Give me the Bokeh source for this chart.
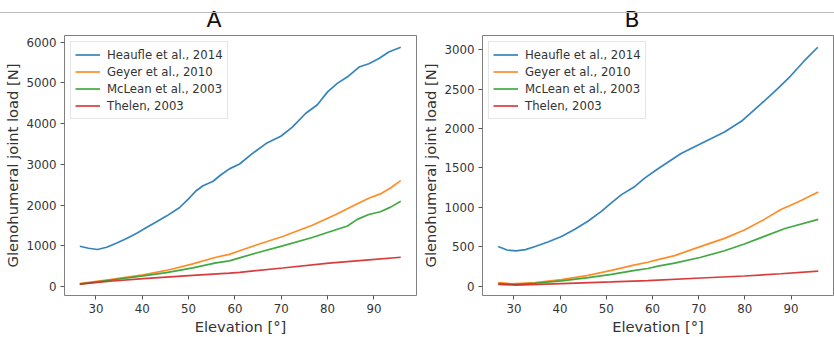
from bokeh.plotting import figure
from bokeh.layouts import row
from bokeh.models import (Range1d, FixedTicker, Legend, LegendItem, Title, InlineStyleSheet)
from bokeh.embed import file_html
from bokeh.resources import INLINE

# ---------------- data ----------------
series_names = ["Heaufle et al., 2014", "Geyer et al., 2010", "McLean et al., 2003", "Thelen, 2003"]
series_colors = ["#1f77b4", "#ff7f0e", "#2ca02c", "#d62728"]

# Panel A
a_heaufle_x = [26.5, 28.4, 30.3, 32.3, 34.5, 36.6, 38.8, 40.9, 43.0, 45.2, 48.0, 50.2, 51.7, 53.1, 55.2, 57.0,
               58.8, 61.0, 63.8, 66.7, 69.9, 72.4, 75.3, 77.8, 80.0, 82.1, 84.3, 86.8, 88.9, 91.1, 93.2, 95.8]
a_heaufle_y = [990, 940, 910, 965, 1070, 1180, 1310, 1450, 1585, 1730, 1935, 2180, 2360, 2475, 2580, 2745,
               2890, 3010, 3270, 3510, 3690, 3915, 4255, 4465, 4780, 4990, 5150, 5390, 5470, 5600, 5760, 5875]
a_geyer_x = [26.5, 33.0, 40.2, 45.2, 50.9, 55.9, 58.8, 61.0, 64.6, 70.3, 76.7, 81.8, 86.1, 89.0, 91.4, 93.6, 95.8]
a_geyer_y = [75, 170, 290, 395, 558, 720, 790, 880, 1020, 1230, 1505, 1770, 2015, 2175, 2275, 2420, 2600]
a_mclean_x = [26.5, 33.0, 40.2, 45.2, 50.9, 55.9, 58.8, 61.0, 64.6, 70.3, 76.7, 80.3, 84.3, 86.4, 88.9, 91.4, 93.6, 95.8]
a_mclean_y = [60, 155, 260, 340, 460, 583, 630, 705, 825, 1000, 1205, 1340, 1488, 1650, 1770, 1837, 1950, 2095]
a_thelen_x = [26.5, 33.0, 40.2, 50.9, 58.8, 61.0, 70.3, 80.3, 88.9, 95.8]
a_thelen_y = [60, 130, 195, 275, 330, 350, 455, 575, 655, 720]

# Panel B
b_heaufle_x = [26.6, 28.5, 30.4, 32.5, 34.6, 37.5, 40.3, 43.2, 46.1, 49.0, 51.1, 53.3, 56.2, 58.3, 61.2,
               66.2, 71.2, 75.6, 79.5, 83.5, 87.0, 89.9, 92.8, 95.8]
b_heaufle_y = [505, 460, 448, 465, 505, 565, 632, 723, 827, 952, 1058, 1162, 1266, 1371, 1490,
               1684, 1830, 1955, 2102, 2311, 2499, 2665, 2853, 3030]
b_geyer_x = [26.6, 29.6, 34.6, 40.3, 46.1, 51.1, 56.2, 59.0, 61.2, 64.8, 70.5, 75.6, 79.9, 84.2, 87.8, 91.4, 95.9]
b_geyer_y = [46, 30, 46, 84, 138, 201, 272, 305, 338, 388, 506, 607, 714, 848, 974, 1065, 1195]
b_mclean_x = [26.6, 30.3, 34.6, 40.3, 46.1, 51.1, 56.2, 59.0, 61.2, 64.8, 70.5, 75.6, 79.9, 84.2, 88.7, 95.9]
b_mclean_y = [34, 25, 38, 68, 109, 150, 201, 225, 256, 293, 368, 451, 535, 632, 732, 848]
b_thelen_x = [26.6, 30.3, 40.3, 51.1, 59.0, 70.5, 79.9, 87.8, 95.9]
b_thelen_y = [25, 15, 34, 55, 72, 105, 130, 159, 193]

x_ticks = [30, 40, 50, 60, 70, 80, 90]
a_y_ticks = [0, 1000, 2000, 3000, 4000, 5000, 6000]
b_y_ticks = [0, 500, 1000, 1500, 2000, 2500, 3000]

FONT = "DejaVu Sans"
TXT = "#333333"


def make_panel(title, xs, ys, y_ticks, y_range, width, left, right):
    p = figure(width=width, height=337, output_backend="svg", toolbar_location=None,
               x_range=Range1d(23.2, 99.2), y_range=Range1d(*y_range),
               min_border_left=left, min_border_right=right, min_border_top=34, min_border_bottom=40)
    p.grid.visible = False
    p.outline_line_color = "#808080"
    p.outline_line_width = 1
    p.background_fill_color = "white"
    p.border_fill_color = "white"

    t = Title(text=title, align="left", offset=142, text_font=FONT, text_font_size="22px",
              text_font_style="normal", text_color="#111111", standoff=8)
    p.add_layout(t, "above")

    p.xaxis.ticker = FixedTicker(ticks=x_ticks)
    p.yaxis.ticker = FixedTicker(ticks=y_ticks)
    p.xaxis.axis_label = "Elevation [°]"
    p.yaxis.axis_label = "Glenohumeral joint load [N]"
    for ax in (p.xaxis, p.yaxis):
        ax.axis_line_color = None
        ax.major_tick_in = 0
        ax.major_tick_out = 4
        ax.major_tick_line_color = "#555555"
        ax.minor_tick_line_color = None
        ax.major_label_text_font = FONT
        ax.major_label_text_font_size = "11.8px"
        ax.major_label_text_color = TXT
        ax.axis_label_text_font = FONT
        ax.axis_label_text_font_size = "14.7px"
        ax.axis_label_text_font_style = "normal"
        ax.axis_label_text_color = TXT
        ax.major_label_standoff = 4
        ax.axis_label_standoff = 2

    items = []
    for name, color, x, y in zip(series_names, series_colors, xs, ys):
        r = p.line(x, y, line_color=color, line_width=1.7, line_alpha=0.9)
        items.append(LegendItem(label=name, renderers=[r]))
    leg = Legend(items=items, location="top_left", margin=6, padding=4, spacing=0,
                 glyph_width=25, glyph_height=17, label_height=17, label_standoff=7,
                 label_text_font=FONT, label_text_font_size="11.7px", label_text_color=TXT,
                 border_line_color="#cccccc", border_line_width=1,
                 background_fill_color="white", background_fill_alpha=0.85)
    p.add_layout(leg)
    return p


pA = make_panel("A",
                [a_heaufle_x, a_geyer_x, a_mclean_x, a_thelen_x],
                [a_heaufle_y, a_geyer_y, a_mclean_y, a_thelen_y],
                a_y_ticks, (-220, 6165), 417, 64, 1)
pB = make_panel("B",
                [b_heaufle_x, b_geyer_x, b_mclean_x, b_thelen_x],
                [b_heaufle_y, b_geyer_y, b_mclean_y, b_thelen_y],
                b_y_ticks, (-117, 3179), 417, 65, 1)

# thin grey rule across the top of the page, as in the reference
rule_css = """
:host { position: relative; }
:host::after {
  content: "";
  position: absolute;
  left: 0; top: 12px;
  width: 834px; height: 0;
  border-top: 1px solid #bbbbbb;
  pointer-events: none;
}
"""
layout = row(pA, pB, spacing=0, stylesheets=[InlineStyleSheet(css=rule_css)])
open("out.html", "w").write(file_html(layout, INLINE))
